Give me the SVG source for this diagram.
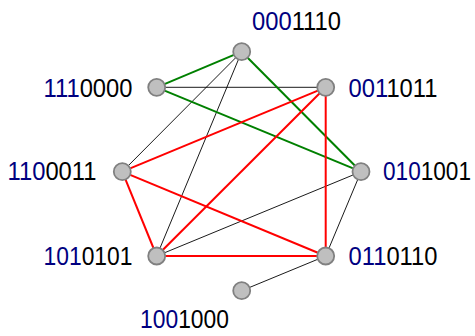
<svg xmlns="http://www.w3.org/2000/svg" width="475" height="336" viewBox="0 0 475 336">
<style>
.n{fill:#bfbfbf;stroke:#808080;stroke-width:1.8}
.k{stroke:#000;stroke-width:0.9;fill:none}
.r{stroke:#ff0000;stroke-width:2;fill:none}
.g{stroke:#008000;stroke-width:2;fill:none}
text{font-family:"Liberation Sans",Arial,sans-serif;font-size:25px;fill:#000}
.b{fill:#000080}
</style>
<rect width="475" height="336" fill="#fff"/>
<g id="edges">
<line class="k" x1="156.7" y1="87.3" x2="325.7" y2="87.3"/>
<line class="k" x1="241.7" y1="51.7" x2="122.3" y2="171.7"/>
<line class="k" x1="241.7" y1="51.7" x2="156.7" y2="256"/>
<line class="k" x1="361" y1="171.7" x2="156.7" y2="256"/>
<line class="k" x1="361" y1="171.7" x2="325.7" y2="256"/>
<line class="k" x1="325.7" y1="256" x2="241.7" y2="290.7"/>
<line class="g" x1="241.7" y1="51.7" x2="156.7" y2="87.3"/>
<line class="g" x1="241.7" y1="51.7" x2="361" y2="171.7"/>
<line class="g" x1="156.7" y1="87.3" x2="361" y2="171.7"/>
<line class="r" x1="325.7" y1="87.3" x2="122.3" y2="171.7"/>
<line class="r" x1="325.7" y1="87.3" x2="156.7" y2="256"/>
<line class="r" x1="325.7" y1="87.3" x2="325.7" y2="256"/>
<line class="r" x1="122.3" y1="171.7" x2="156.7" y2="256"/>
<line class="r" x1="122.3" y1="171.7" x2="325.7" y2="256"/>
<line class="r" x1="156.7" y1="256" x2="325.7" y2="256"/>
</g>
<g id="n0001110"><circle class="n" cx="241.7" cy="51.7" r="8.5"/><text x="252" y="30" textLength="89" lengthAdjust="spacingAndGlyphs"><tspan class="b">000</tspan>1110</text></g>
<g id="n1110000"><circle class="n" cx="156.7" cy="87.3" r="8.5"/><text x="43.5" y="96.5" textLength="89" lengthAdjust="spacingAndGlyphs"><tspan class="b">111</tspan>0000</text></g>
<g id="n0011011"><circle class="n" cx="325.7" cy="87.3" r="8.5"/><text x="348.5" y="96.5" textLength="89" lengthAdjust="spacingAndGlyphs"><tspan class="b">001</tspan>1011</text></g>
<g id="n1100011"><circle class="n" cx="122.3" cy="171.7" r="8.5"/><text x="7.5" y="180" textLength="89" lengthAdjust="spacingAndGlyphs"><tspan class="b">110</tspan>0011</text></g>
<g id="n0101001"><circle class="n" cx="361" cy="171.7" r="8.5"/><text x="383" y="180" textLength="88" lengthAdjust="spacingAndGlyphs"><tspan class="b">010</tspan>1001</text></g>
<g id="n1010101"><circle class="n" cx="156.7" cy="256" r="8.5"/><text x="43.5" y="265" textLength="89" lengthAdjust="spacingAndGlyphs"><tspan class="b">101</tspan>0101</text></g>
<g id="n0110110"><circle class="n" cx="325.7" cy="256" r="8.5"/><text x="348.5" y="265" textLength="89" lengthAdjust="spacingAndGlyphs"><tspan class="b">011</tspan>0110</text></g>
<g id="n1001000"><circle class="n" cx="241.7" cy="290.7" r="8.5"/><text x="140" y="328" textLength="89" lengthAdjust="spacingAndGlyphs"><tspan class="b">100</tspan>1000</text></g>
</svg>
